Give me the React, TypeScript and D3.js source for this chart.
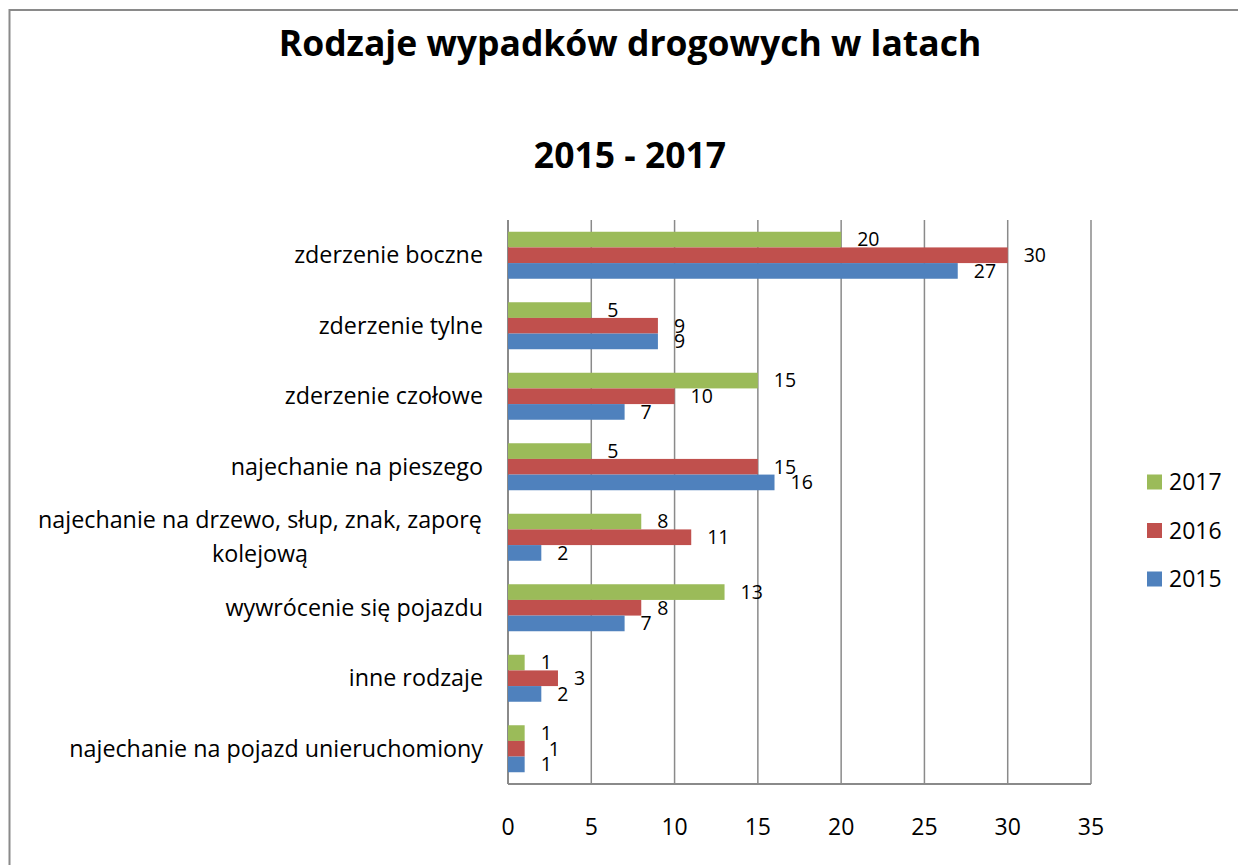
import React from 'react';
import * as d3 from 'd3';

const categories = [
  'zderzenie boczne',
  'zderzenie tylne',
  'zderzenie czołowe',
  'najechanie na pieszego',
  'najechanie na drzewo, słup, znak, zaporę kolejową',
  'wywrócenie się pojazdu',
  'inne rodzaje',
  'najechanie na pojazd unieruchomiony',
];
const years = ['2017', '2016', '2015'];
const values2017 = [20, 5, 15, 5, 8, 13, 1, 1];
const values2016 = [30, 9, 10, 15, 11, 8, 3, 1];
const values2015 = [27, 9, 7, 16, 2, 7, 2, 1];
const xTicks = [0, 5, 10, 15, 20, 25, 30, 35];
const colors = ['#9BBB59', '#C0504D', '#4F81BD'];

const W = 1238;
const H = 865;
const plot = { left: 508, right: 1091, top: 220, bottom: 784 };
const font = '"Open Sans", sans-serif';

// naive word wrap, Excel breaks the long label after "zaporę"
const wrap = (s: string, max = 40) => {
  const lines: string[] = [];
  let cur = '';
  s.split(' ').forEach(w => {
    const next = cur ? cur + ' ' + w : w;
    if (next.length > max && cur) {
      lines.push(cur);
      cur = w;
    } else cur = next;
  });
  if (cur) lines.push(cur);
  return lines;
};

export default function App() {
  const series = [values2017, values2016, values2015];

  const x = d3.scaleLinear().domain([0, 35]).range([plot.left, plot.right]);
  const y = d3.scaleBand<string>()
    .domain(categories)
    .range([plot.top, plot.bottom])
    .paddingInner(1 / 3)
    .paddingOuter(1 / 6);
  const ySub = d3.scaleBand<string>().domain(years).range([0, y.bandwidth()]);

  return (
    <svg width={W} height={H} style={{ position: 'absolute', left: 0, top: 0 }} fontFamily={font}>
      <rect x={0} y={0} width={W} height={H} fill="#fff" />
      <rect x={9.5} y={10} width={W + 20} height={H + 20} fill="none" stroke="#8a8a8a" strokeWidth={2} />

      <text x={630} y={56} textAnchor="middle" fontSize={35.5} fontWeight="bold">
        Rodzaje wypadków drogowych w latach
      </text>
      <text x={630} y={168} textAnchor="middle" fontSize={35.5} fontWeight="bold">
        2015 - 2017
      </text>

      {/* gridlines */}
      {xTicks.map(t => (
        <line key={t} x1={x(t)} x2={x(t)} y1={plot.top} y2={plot.bottom} stroke="#8a8a8a" strokeWidth={1.5} />
      ))}
      <line x1={plot.left} x2={plot.right} y1={plot.bottom} y2={plot.bottom} stroke="#8a8a8a" strokeWidth={2} />
      <line x1={plot.left} x2={plot.left} y1={plot.top} y2={plot.bottom} stroke="#8a8a8a" strokeWidth={2} />

      {/* bars + labels */}
      {categories.map((c, i) => {
        // when all three labels sit in one column, Excel pushes the middle one aside
        const allSame = series.every(s => s[i] === series[0][i]) && series[0][i] < 3;
        return (
          <g key={c} transform={`translate(0,${y(c)})`}>
            {years.map((yr, k) => {
              const v = series[k][i];
              const by = ySub(yr)!;
              const nudge = allSame && k === 1 ? 8 : 0;
              return (
                <g key={yr}>
                  <rect x={x(0)} y={by} width={x(v) - x(0)} height={ySub.bandwidth()} fill={colors[k]} />
                  <text x={x(v) + 16 + nudge} y={by + ySub.bandwidth() / 2} dy="0.35em" fontSize={19.5}>
                    {v}
                  </text>
                </g>
              );
            })}
          </g>
        );
      })}

      {/* category labels */}
      {categories.map(c => {
        const lines = wrap(c);
        const cy = y(c)! + y.bandwidth() / 2;
        const lh = 34;
        if (lines.length === 1) {
          return (
            <text key={c} x={483} y={cy} dy="0.35em" textAnchor="end" fontSize={23.3}>
              {c}
            </text>
          );
        }
        return (
          <text key={c} x={260} textAnchor="middle" fontSize={23.3}>
            {lines.map((l, j) => (
              <tspan key={j} x={260} y={cy + (j - (lines.length - 1) / 2) * lh} dy="0.35em">
                {l}
              </tspan>
            ))}
          </text>
        );
      })}

      {/* x tick labels */}
      {xTicks.map(t => (
        <text key={t} x={x(t)} y={835} textAnchor="middle" fontSize={23}>
          {t}
        </text>
      ))}

      {/* legend */}
      {years.map((yr, k) => (
        <g key={yr} transform={`translate(1147,${482 + k * 48.5})`}>
          <rect x={0} y={-7.5} width={15} height={15} fill={colors[k]} />
          <text x={22} y={0} dy="0.35em" fontSize={23}>
            {yr}
          </text>
        </g>
      ))}
    </svg>
  );
}
